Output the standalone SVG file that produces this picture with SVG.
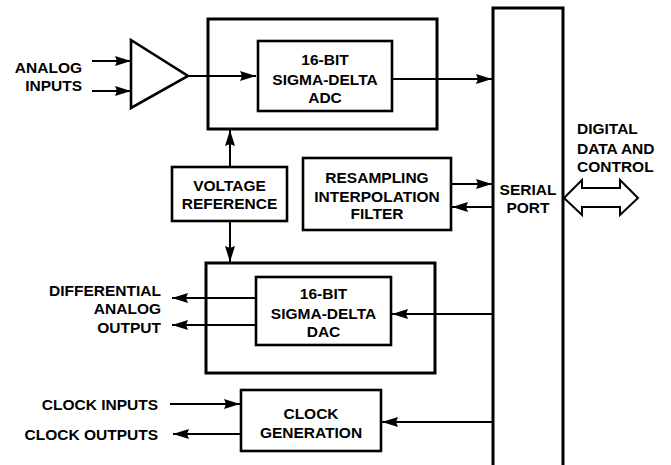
<svg xmlns="http://www.w3.org/2000/svg" width="671" height="465" viewBox="0 0 671 465">
<style>
text{font-family:"Liberation Sans",Arial,sans-serif;font-weight:bold;font-size:15.5px;fill:#000}
.c{text-anchor:middle}
.e{text-anchor:end}
.outer{fill:none;stroke:#000;stroke-width:3}
.inner{fill:none;stroke:#000;stroke-width:2.6}
.ln{fill:none;stroke:#000;stroke-width:2;marker-end:url(#ah)}
</style>
<defs>
<marker id="ah" viewBox="0 0 16 10" refX="16" refY="5" markerWidth="16" markerHeight="10" orient="auto" markerUnits="userSpaceOnUse">
<path d="M0,0 L16,5 L0,10 L2,5 Z" fill="#000"/>
</marker>
</defs>
<rect width="671" height="465" fill="#fff"/>
<g id="adc">
<rect class="outer" x="208" y="19" width="229" height="110"/>
<rect class="inner" x="258" y="41" width="134" height="70"/>
<text class="c" x="325" y="65">16-BIT</text>
<text class="c" x="325" y="84.5">SIGMA-DELTA</text>
<text class="c" x="325" y="103">ADC</text>
</g>
<g id="amp">
<polygon points="131,40 188,76 131,108" fill="none" stroke="#000" stroke-width="2.6" stroke-linejoin="miter"/>
</g>
<g id="analog-inputs">
<text class="e" x="82" y="72.5">ANALOG</text>
<text class="e" x="82" y="90.5">INPUTS</text>
</g>
<g id="vref">
<rect class="inner" x="172" y="167" width="115" height="54"/>
<text class="c" x="229.5" y="190.5">VOLTAGE</text>
<text class="c" x="229.5" y="208.5">REFERENCE</text>
</g>
<g id="resampling">
<rect class="inner" x="303" y="158" width="148" height="72"/>
<text class="c" x="377" y="182.5">RESAMPLING</text>
<text class="c" x="377" y="201.5">INTERPOLATION</text>
<text class="c" x="377" y="218.5">FILTER</text>
</g>
<g id="serial">
<path d="M493,465 V8 H563 V465" fill="none" stroke="#000" stroke-width="3"/>
<text class="c" x="528" y="194.5">SERIAL</text>
<text class="c" x="528" y="212.5">PORT</text>
</g>
<g id="digital">
<text x="577" y="133.5">DIGITAL</text>
<text x="577" y="153.5">DATA AND</text>
<text x="577" y="171.5">CONTROL</text>
</g>
<g id="dac">
<rect class="outer" x="206" y="263" width="229" height="110"/>
<rect class="inner" x="256" y="277" width="135" height="68"/>
<text class="c" x="323.5" y="298.5">16-BIT</text>
<text class="c" x="323.5" y="318.5">SIGMA-DELTA</text>
<text class="c" x="323.5" y="336.5">DAC</text>
</g>
<g id="diff-out">
<text class="e" x="161" y="295.5">DIFFERENTIAL</text>
<text class="e" x="161" y="313.5">ANALOG</text>
<text class="e" x="161" y="332.5">OUTPUT</text>
</g>
<g id="clockgen">
<rect class="inner" x="241" y="390" width="140" height="61"/>
<text class="c" x="311" y="418.5">CLOCK</text>
<text class="c" x="311" y="437.5">GENERATION</text>
</g>
<g id="clock-labels">
<text class="e" x="158" y="409.5">CLOCK INPUTS</text>
<text class="e" x="158" y="439.5">CLOCK OUTPUTS</text>
</g>
<g id="connectors">
<line class="ln" x1="92" y1="61" x2="131" y2="61"/>
<line class="ln" x1="92" y1="91" x2="131" y2="91"/>
<line class="ln" x1="188" y1="76" x2="256" y2="76"/>
<line class="ln" x1="392" y1="79" x2="492" y2="79"/>
<line class="ln" x1="230" y1="167" x2="230" y2="130"/>
<line class="ln" x1="230" y1="221" x2="230" y2="262"/>
<line class="ln" x1="451" y1="184" x2="492" y2="184"/>
<line class="ln" x1="493" y1="207" x2="452" y2="207"/>
<line class="ln" x1="493" y1="314" x2="392" y2="314"/>
<line class="ln" x1="256" y1="298" x2="172" y2="298"/>
<line class="ln" x1="256" y1="325" x2="172" y2="325"/>
<line class="ln" x1="170" y1="404" x2="240" y2="404"/>
<line class="ln" x1="241" y1="434" x2="173" y2="434"/>
<line class="ln" x1="493" y1="422" x2="382" y2="422"/>
<path d="M564,198 L582,180 V188 H620 V180 L638,198 L620,215 V207 H582 V215 Z" fill="#fff" stroke="#000" stroke-width="2" stroke-linejoin="miter"/>
</g>
</svg>
